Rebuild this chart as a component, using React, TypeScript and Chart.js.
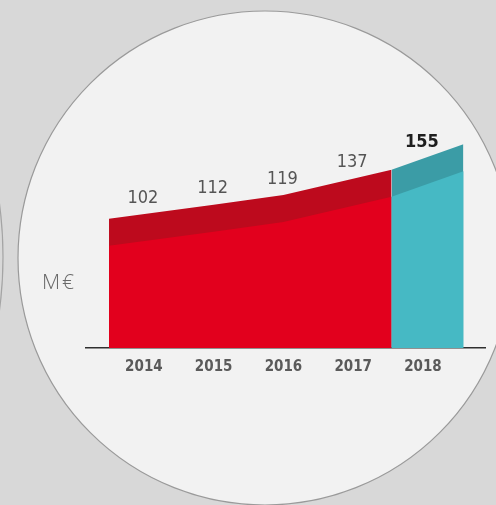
import React, { useEffect, useRef } from 'react';
import { Chart, registerables } from 'chart.js';

Chart.register(...registerables);

// ---- data ----
const years = [2014, 2015, 2016, 2017, 2018];
const yearLabels = ['2014', '2015', '2016', '2017', '2018'];
const revenue = [102, 112, 119, 137, 155];
// outline of the areas on the year axis (actual years, then 2018)
const actualX = [2013.5, 2015, 2016, 2017.55];
const actualY = [102, 112, 119, 137];
const forecastX = [2017.55, 2018.58];
const forecastY = [137, 155];
const unitLabel = 'M€';

const W = 496;
const H = 505;
const BAND = 27;
const FONT = '"DejaVu Sans Condensed", "DejaVu Sans", sans-serif';

const backgroundPlugin = {
  id: 'bgCircles',
  beforeDraw(chart: any) {
    const ctx = chart.ctx as CanvasRenderingContext2D;
    ctx.save();
    ctx.fillStyle = '#d8d8d8';
    ctx.fillRect(0, 0, W, H);
    // left partial circle
    ctx.beginPath();
    ctx.arc(3 - 400, 257, 400, 0, Math.PI * 2);
    ctx.strokeStyle = '#a4a4a4';
    ctx.lineWidth = 1.2;
    ctx.stroke();
    // main circle
    ctx.beginPath();
    ctx.arc(265, 258, 247, 0, Math.PI * 2);
    ctx.fillStyle = '#f2f2f2';
    ctx.fill();
    ctx.strokeStyle = '#9a9a9a';
    ctx.lineWidth = 1.2;
    ctx.stroke();
    ctx.restore();
  },
};

const bandPlugin = {
  id: 'lightBand',
  afterDatasetsDraw(chart: any) {
    const ctx = chart.ctx as CanvasRenderingContext2D;
    const area = chart.chartArea;
    const colors = ['#e2001d', '#46b9c4'];
    chart.data.datasets.forEach((_: any, i: number) => {
      const pts = chart.getDatasetMeta(i).data;
      if (!pts.length) return;
      ctx.save();
      ctx.beginPath();
      ctx.rect(area.left, area.top, area.right - area.left, area.bottom - area.top);
      ctx.clip();
      ctx.beginPath();
      ctx.moveTo(pts[0].x, pts[0].y + BAND);
      for (let k = 1; k < pts.length; k++) ctx.lineTo(pts[k].x, pts[k].y + BAND);
      ctx.lineTo(pts[pts.length - 1].x, area.bottom);
      ctx.lineTo(pts[0].x, area.bottom);
      ctx.closePath();
      ctx.fillStyle = colors[i];
      ctx.fill();
      ctx.restore();
    });
  },
  afterDraw(chart: any) {
    const ctx = chart.ctx as CanvasRenderingContext2D;
    const xs = chart.scales.x;
    const all: { x: number; y: number }[] = [];
    chart.data.datasets.forEach((_: any, i: number) => {
      chart.getDatasetMeta(i).data.forEach((p: any) => all.push({ x: p.x, y: p.y }));
    });
    all.sort((a, b) => a.x - b.x);
    const lineY = (x: number) => {
      for (let k = 0; k < all.length - 1; k++) {
        const a = all[k], b = all[k + 1];
        if (x >= a.x && x <= b.x && b.x > a.x) return a.y + ((x - a.x) / (b.x - a.x)) * (b.y - a.y);
      }
      return all[all.length - 1].y;
    };
    ctx.save();
    ctx.textAlign = 'center';
    ctx.textBaseline = 'middle';
    years.forEach((yr, i) => {
      const x = xs.getPixelForValue(yr);
      const y = lineY(x) - 16;
      const last = i === years.length - 1;
      ctx.font = (last ? 'bold ' : '') + '18px ' + FONT;
      ctx.fillStyle = last ? '#1e1e1e' : '#555555';
      ctx.fillText(String(revenue[i]), x - 1, y);
    });
    ctx.font = '300 21px "Open Sans", sans-serif';
    (ctx as any).letterSpacing = '2px';
    ctx.fillStyle = '#6a6a6a';
    ctx.fillText(unitLabel, 59, 283);
    ctx.restore();
  },
};

export default function App() {
  const ref = useRef<HTMLCanvasElement | null>(null);
  useEffect(() => {
    if (!ref.current) return;
    const chart = new Chart(ref.current, {
      type: 'line',
      data: {
        datasets: [
          {
            data: actualX.map((x, i) => ({ x, y: actualY[i] })),
            backgroundColor: '#bd0a1d',
            borderWidth: 0,
            pointRadius: 0,
            fill: 'start',
            tension: 0,
          },
          {
            data: forecastX.map((x, i) => ({ x, y: forecastY[i] })),
            backgroundColor: '#3b9ca6',
            borderWidth: 0,
            pointRadius: 0,
            fill: 'start',
            tension: 0,
          },
        ],
      },
      options: {
        animation: false,
        responsive: false,
        devicePixelRatio: 1,
        layout: { padding: { left: 86, right: 11, top: 98, bottom: 117 } },
        plugins: { legend: { display: false }, tooltip: { enabled: false } },
        scales: {
          x: {
            type: 'linear',
            min: 2013.17,
            max: 2018.89,
            z: 1,
            grid: { display: false, drawTicks: false },
            border: { display: true, color: '#2f2f2f', width: 1.6 },
            afterBuildTicks: (s: any) => {
              s.ticks = years.map((v) => ({ value: v }));
            },
            afterFit: (s: any) => {
              s.height = 40;
            },
            ticks: {
              padding: 10,
              color: '#5a5a5a',
              font: { family: FONT, size: 15, weight: 'bold' },
              callback: (v: any) => yearLabels[years.indexOf(Number(v))] ?? '',
            },
          },
          y: { display: false, min: 10, max: 188 },
        },
      },
      plugins: [backgroundPlugin, bandPlugin],
    } as any);
    return () => chart.destroy();
  }, []);
  return (
    <div style={{ position: 'absolute', left: 0, top: 0, width: W, height: H }}>
      <canvas ref={ref} width={W} height={H} style={{ display: 'block' }} />
    </div>
  );
}
